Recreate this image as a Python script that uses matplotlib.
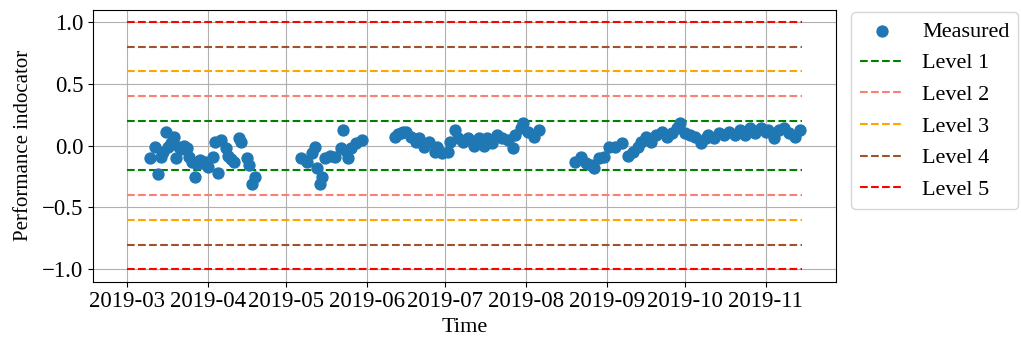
import pandas as pd
import matplotlib
matplotlib.use('Agg')
import matplotlib.pyplot as plt
import matplotlib.dates as mdates

# data (days counted from start_date)
start_date = '2019-03-01'
level_end_day = 259

measured_day = [
    9, 11, 12, 13, 14, 15, 16, 17, 18, 19, 20, 21, 22, 23, 24, 25, 26, 27,
    28, 29, 30, 31, 33, 34, 35, 36, 38, 39, 40, 41, 43, 44, 46, 47, 48, 49,
    67, 69, 71, 72, 73, 74, 75, 76, 78, 80, 82, 83, 84, 85, 86, 88, 90,
    103, 104, 105, 106, 107, 109, 111, 112, 114, 116, 118, 119, 121, 123,
    124, 126, 127, 129, 131, 133, 135, 137, 138, 140, 142, 144, 146, 148,
    149, 151, 152, 154, 156, 158,
    172, 174, 176, 178, 179, 181, 183, 185, 187, 190, 192, 194, 196, 197,
    199, 201, 203, 205, 207, 209, 211, 212, 214, 216, 218, 220, 222, 223,
    225, 227, 229, 231, 233, 235, 237, 239, 241, 243, 245, 246, 248, 250,
    252, 254, 256, 258,
]
measured_value = [
    -0.10, -0.01, -0.23, -0.09, -0.05, 0.11, -0.01, 0.02, 0.07, -0.10,
    -0.01, -0.03, 0.00, -0.02, -0.09, -0.13, -0.25, -0.15, -0.12, -0.14,
    -0.13, -0.17, -0.09, 0.03, -0.22, 0.045, -0.02, -0.08, -0.11, -0.13,
    0.06, 0.03, -0.10, -0.16, -0.31, -0.25,
    -0.10, -0.13, -0.06, -0.01, -0.18, -0.31, -0.25, -0.10, -0.08, -0.09,
    -0.02, 0.13, -0.04, -0.10, -0.02, 0.02, 0.045,
    0.07, 0.09, 0.10, 0.11, 0.11, 0.07, 0.03, 0.06, -0.01, 0.03, -0.05,
    -0.01, -0.06, -0.05, 0.03, 0.125, 0.06, 0.03, 0.06, 0.00, 0.06, 0.00,
    0.06, 0.02, 0.085, 0.06, 0.045, -0.02, 0.085, 0.14, 0.18, 0.11, 0.07,
    0.125,
    -0.13, -0.09, -0.14, -0.16, -0.18, -0.10, -0.09, -0.01, -0.01, 0.02,
    -0.08, -0.05, -0.01, 0.03, 0.07, 0.03, 0.085, 0.11, 0.07, 0.10, 0.14,
    0.18, 0.10, 0.085, 0.07, 0.02, 0.06, 0.085, 0.06, 0.10, 0.085, 0.11,
    0.085, 0.125, 0.085, 0.14, 0.10, 0.14, 0.11, 0.125, 0.06, 0.125, 0.14,
    0.10, 0.07, 0.125,
]

level_names = ['Level 1', 'Level 2', 'Level 3', 'Level 4', 'Level 5']
level_values = [0.2, 0.4, 0.6, 0.8, 1.0]
level_colors = ['green', 'salmon', 'orange', 'sienna', 'red']

plt.rcParams['font.family'] = ['Liberation Serif', 'DejaVu Serif']
plt.rcParams['font.size'] = 16.5


def to_dates(days):
    return pd.to_datetime(start_date) + pd.to_timedelta(days, unit='D')


def main():
    fig = plt.figure(figsize=(10.21, 3.41), dpi=100)
    ax = fig.add_axes([0.091, 0.174, 0.728, 0.798])

    ax.scatter(to_dates(measured_day), measured_value, s=62,
               color='tab:blue', label='Measured', zorder=3)

    line_dates = to_dates([0, level_end_day])
    for name, value, color in zip(level_names, level_values, level_colors):
        ax.plot(line_dates, [value, value], '--', color=color, lw=1.5,
                label=name)
        ax.plot(line_dates, [-value, -value], '--', color=color, lw=1.5)

    ax.xaxis.set_major_locator(mdates.MonthLocator())
    ax.xaxis.set_major_formatter(mdates.DateFormatter('%Y-%m'))
    ax.grid(True)
    ax.set_xlabel('Time', fontsize=16, labelpad=4)
    ax.set_ylabel('Performance indocator', fontsize=15, labelpad=6)

    ax.legend(loc='upper left', bbox_to_anchor=(1.02, 0.99),
              borderaxespad=0, fontsize=16)

    fig.savefig('out.png', dpi=100)


if __name__ == "__main__":
    main()
